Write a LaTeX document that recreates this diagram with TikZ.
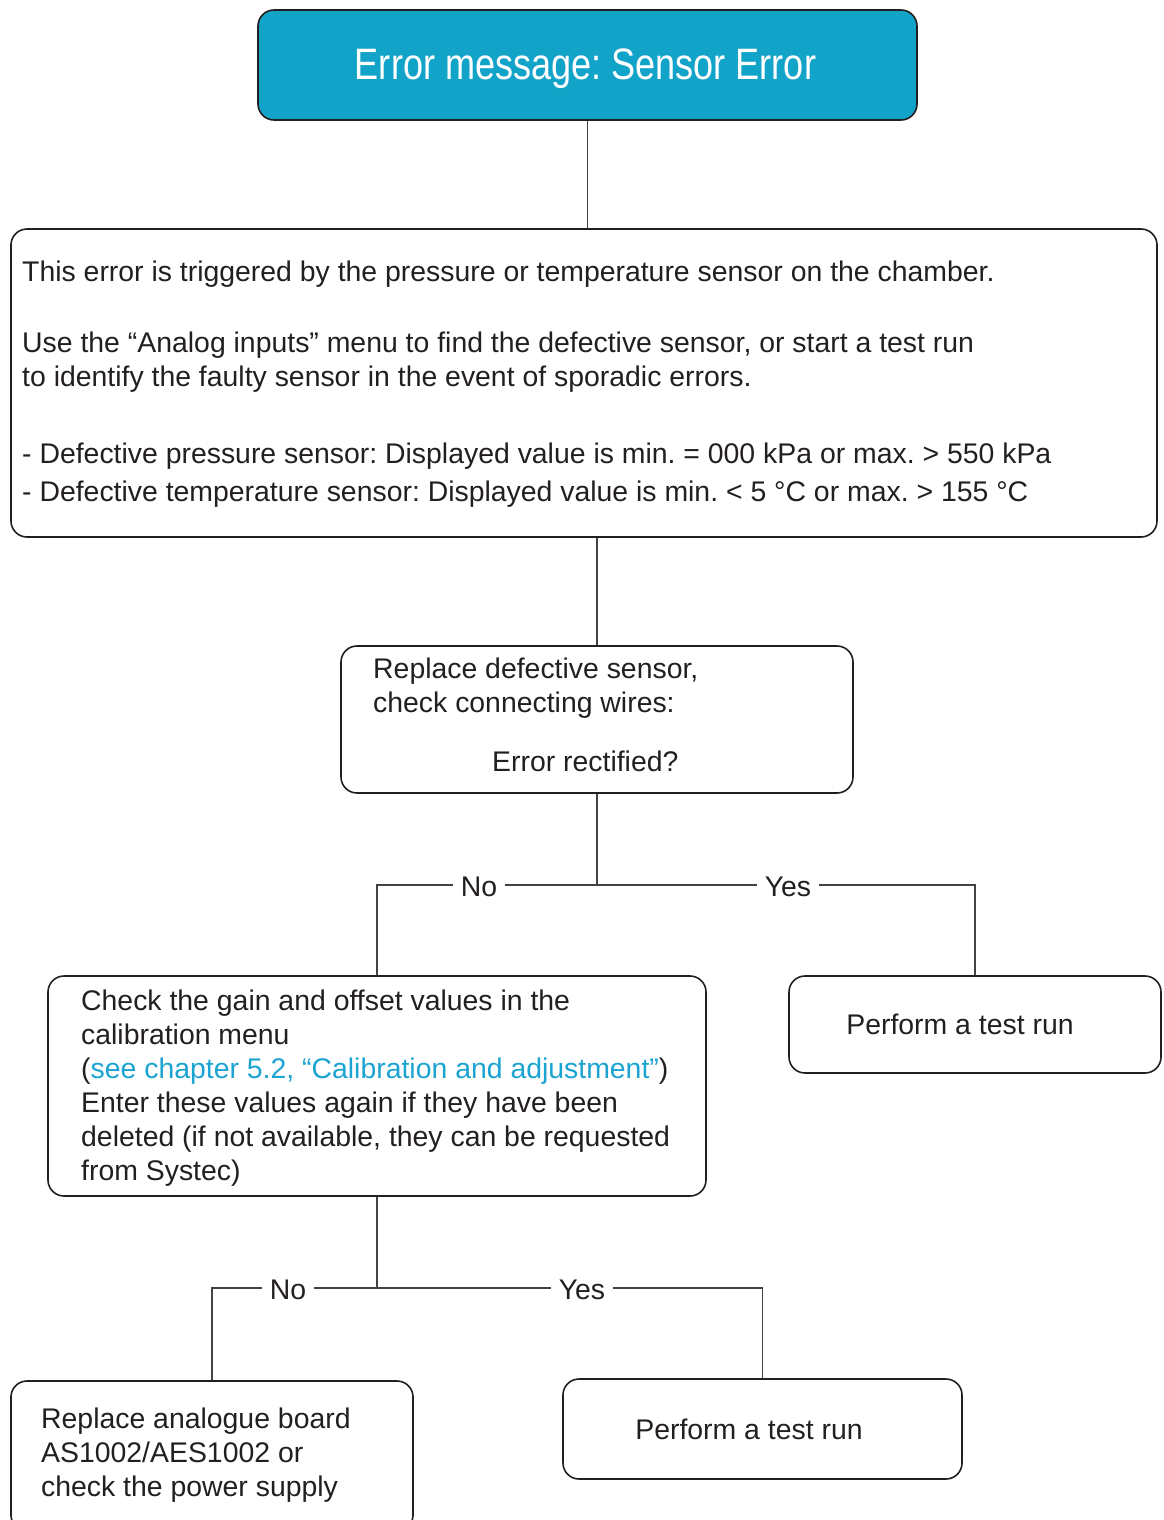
\documentclass[tikz,border=0pt]{standalone}
\usepackage{fontspec}
\setmainfont{Liberation Sans}
\newfontfamily\titlefont[FakeStretch=0.82]{Liberation Sans}
\definecolor{cyanbox}{RGB}{18,163,201}
\definecolor{linkc}{RGB}{27,163,209}
\definecolor{ink}{RGB}{35,31,32}
\begin{document}
\frenchspacing
\begin{tikzpicture}[x=1pt,y=-1pt,
  box/.style={draw=ink, line width=1.6pt, rounded corners=16pt, rectangle, inner sep=0pt},
  conn/.style={draw=ink!85, line width=1.1pt},
  txt/.style={anchor=base west, inner sep=0pt, text=ink, font=\fontsize{28.4}{34}\selectfont},
  ctxt/.style={anchor=base, inner sep=0pt, text=ink, font=\fontsize{28.4}{34}\selectfont},
  lbl/.style={fill=white, inner xsep=8pt, inner ysep=3pt, text=ink, font=\fontsize{28.4}{34}\selectfont, anchor=base}]
\useasboundingbox (0,0) rectangle (1164,1520);

% boxes
\node[box, fill=cyanbox, minimum width=659pt, minimum height=110pt] (top) at (587.5,65) {};
\node[box, minimum width=1146pt, minimum height=308pt] (main) at (584,383) {};
\node[box, minimum width=512pt, minimum height=147pt] (b3) at (597,719.5) {};
\node[box, minimum width=658pt, minimum height=220pt] (b4) at (377,1086) {};
\node[box, minimum width=372pt, minimum height=97pt] (b5) at (975,1024.5) {};
\node[box, minimum width=402pt, minimum height=150pt] (b6) at (212,1456) {};
\node[box, minimum width=399pt, minimum height=100pt] (b7) at (762.5,1429) {};

% texts
\node[anchor=base, inner sep=0pt, text=white, font=\titlefont\fontsize{44}{50}\selectfont] (ttl) at (585.5,80) {Error message: Sensor Error};

\node[txt] (m1) at (22,281) {This error is triggered by the pressure or temperature sensor on the chamber.};
\node[txt] (m2) at (22,352) {Use the “Analog inputs” menu to find the defective sensor, or start a test run};
\node[txt] (m3) at (22,386) {to identify the faulty sensor in the event of sporadic errors.};
\node[txt] (m4) at (22,463) {- Defective pressure sensor: Displayed value is min. = 000 kPa or max. > 550 kPa};
\node[txt] (m5) at (22,501) {- Defective temperature sensor: Displayed value is min. < 5 °C or max. > 155 °C};

\node[txt] (t31) at (373,678) {Replace defective sensor,};
\node[txt] (t32) at (373,712) {check connecting wires:};
\node[txt] (t33) at (492,771) {Error rectified?};

\node[txt] (t41) at (81,1010) {Check the gain and offset values in the};
\node[txt] (t42) at (81,1044) {calibration menu};
\node[txt] (t43) at (81,1078) {(\textcolor{linkc}{see chapter 5.2, “Calibration and adjustment”})};
\node[txt] (t44) at (81,1112) {Enter these values again if they have been};
\node[txt] (t45) at (81,1146) {deleted (if not available, they can be requested};
\node[txt] (t46) at (81,1180) {from Systec)};

\node[ctxt] (t5) at (960,1034) {Perform a test run};

\node[txt] (t61) at (41,1428) {Replace analogue board};
\node[txt] (t62) at (41,1462) {AS1002/AES1002 or};
\node[txt] (t63) at (41,1496) {check the power supply};

\node[ctxt] (t7) at (749,1439) {Perform a test run};

% connectors
\draw[conn] (top.south) -- (top.south |- main.north);
\draw[conn] (b3.north |- main.south) -- (b3.north);
\coordinate (j1) at (597,885);
\draw[conn] (b3.south) -- (j1);
\draw[conn] (j1) -| (b4.north);
\draw[conn] (j1) -| (b5.north);
\coordinate (j2) at (377,1288);
\draw[conn] (b4.south) -- (j2);
\draw[conn] (j2) -| (b6.north);
\draw[conn] (j2) -| (b7.north);

% labels
\node[lbl] (no1) at (479,896) {No};
\node[lbl] (yes1) at (788,896) {Yes};
\node[lbl] (no2) at (288,1299) {No};
\node[lbl] (yes2) at (582,1299) {Yes};
\end{tikzpicture}
\end{document}
